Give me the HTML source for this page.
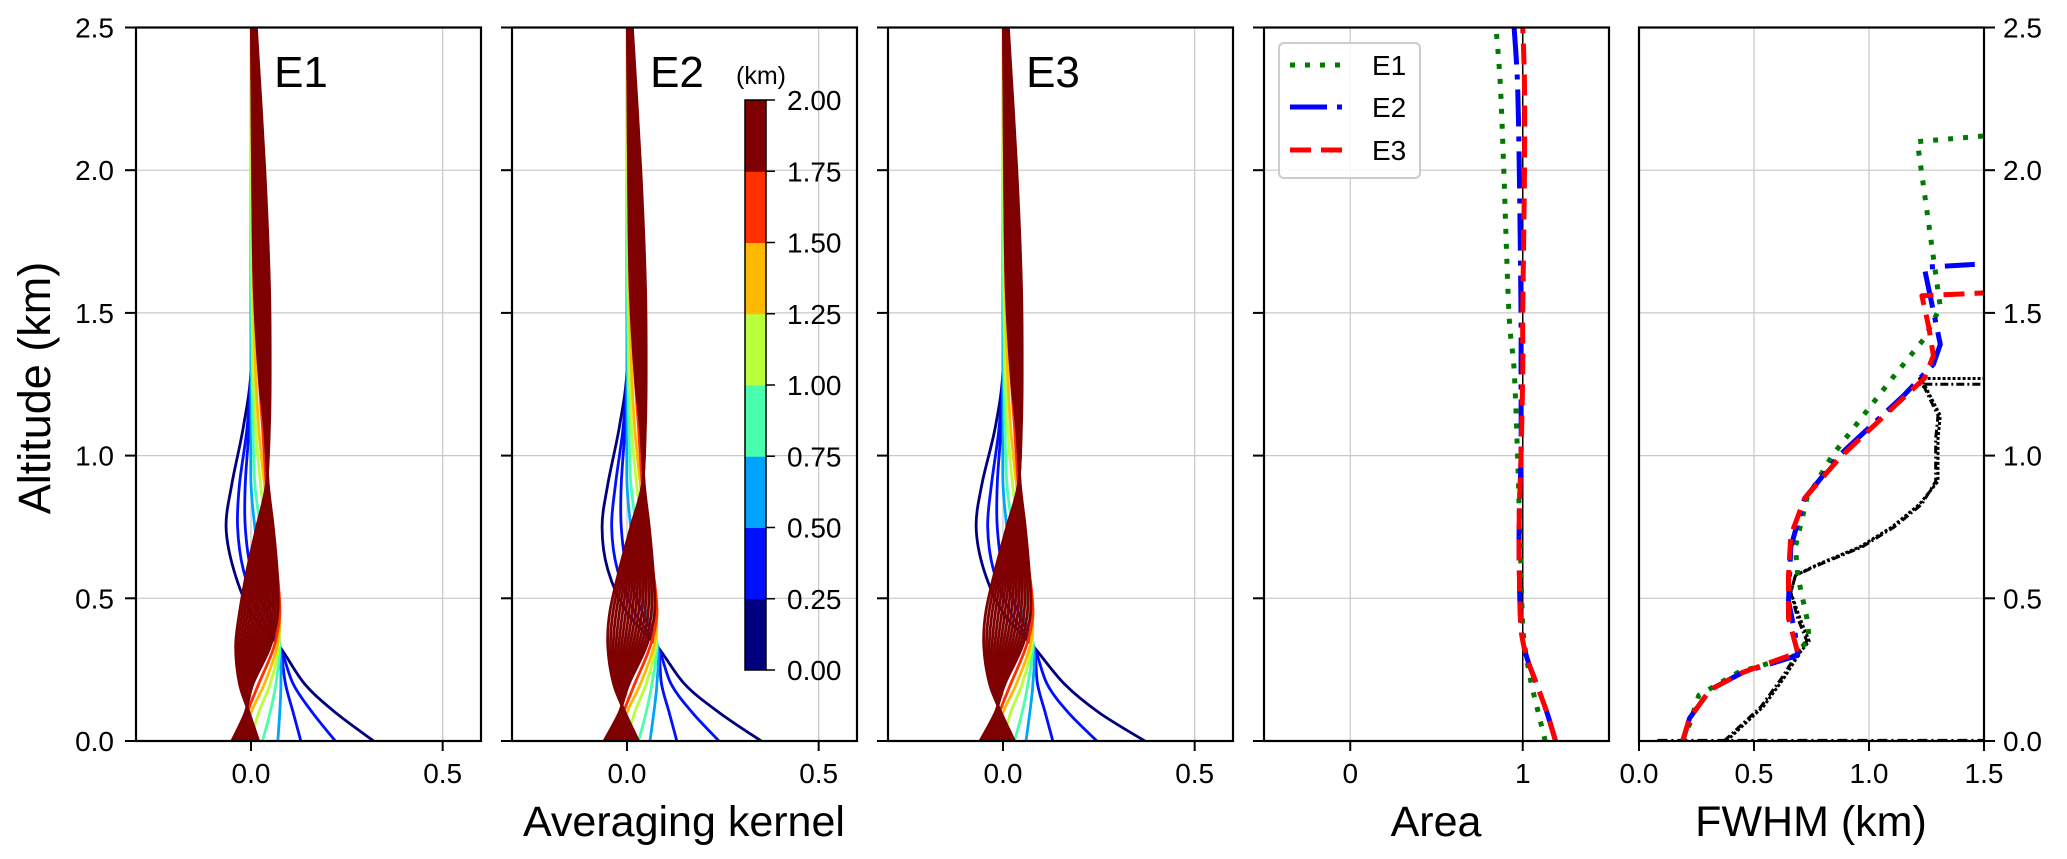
<!DOCTYPE html>
<html><head><meta charset="utf-8"><style>
html,body{margin:0;padding:0;background:#fff;}
svg{display:block;font-family:"Liberation Sans","DejaVu Sans",sans-serif;}
</style></head><body>
<svg id="fig" width="2067" height="859" viewBox="0 0 2067 859" xmlns="http://www.w3.org/2000/svg">
<g id="layer"></g>
</svg>
<script>
// ---------- data ----------
const altLevels = [0,0.1,0.2,0.33,0.45,0.6,0.75,0.9,1.1,1.3,1.6,2.0,2.5];
const keyZ0 = [0,0.3,0.45,0.6,0.85,1.1,1.35,1.6,1.8,2.5];
const kernelKeysE1 = [
 [0.32,0.22,0.14,0.075,0.0,-0.045,-0.065,-0.05,-0.02,0,0,0,0],
 [0.22,0.16,0.11,0.075,0.02,-0.02,-0.035,-0.03,-0.01,0,0,0,0],
 [0.13,0.11,0.09,0.075,0.04,0.0,-0.015,-0.015,-0.005,0,0,0,0],
 [0.07,0.075,0.078,0.075,0.05,0.025,0.01,0.0,0.0,0.0,0,0,0],
 [0.03,0.05,0.065,0.075,0.065,0.045,0.025,0.01,0.005,0.003,0.001,0,0],
 [0.0,0.02,0.05,0.072,0.072,0.06,0.04,0.025,0.012,0.006,0.003,0.001,0],
 [-0.02,0.0,0.035,0.068,0.075,0.065,0.05,0.035,0.02,0.012,0.006,0.003,0.001],
 [-0.035,-0.01,0.02,0.06,0.075,0.068,0.055,0.04,0.03,0.02,0.008,0.004,0.001],
 [-0.05,-0.015,0.005,0.05,0.07,0.068,0.058,0.045,0.035,0.02,0.008,0.004,0.001],
 [0.02,-0.005,-0.03,-0.04,-0.03,-0.01,0.015,0.04,0.048,0.05,0.048,0.036,0.014]
];
const kernelKeysE2 = [
 [0.35,0.24,0.15,0.08,0.0,-0.05,-0.065,-0.05,-0.02,0,0,0,0],
 [0.24,0.17,0.115,0.08,0.02,-0.025,-0.04,-0.03,-0.01,0,0,0,0],
 [0.13,0.11,0.09,0.08,0.04,0.0,-0.015,-0.015,-0.005,0,0,0,0],
 [0.06,0.07,0.078,0.08,0.05,0.025,0.01,0.0,0.0,0.0,0,0,0],
 [0.03,0.05,0.065,0.078,0.068,0.045,0.025,0.01,0.005,0.003,0.001,0,0],
 [0.0,0.02,0.05,0.075,0.075,0.06,0.04,0.025,0.012,0.006,0.003,0.001,0],
 [-0.02,0.0,0.035,0.07,0.078,0.065,0.05,0.035,0.02,0.012,0.006,0.003,0.001],
 [-0.04,-0.01,0.02,0.06,0.078,0.068,0.055,0.04,0.03,0.02,0.008,0.004,0.001],
 [-0.06,-0.02,0.005,0.05,0.072,0.068,0.058,0.045,0.035,0.02,0.008,0.004,0.001],
 [0.03,-0.005,-0.035,-0.05,-0.045,-0.02,0.01,0.04,0.048,0.05,0.048,0.036,0.014]
];
const kernelKeysE3 = [
 [0.37,0.25,0.16,0.08,0.0,-0.05,-0.07,-0.055,-0.02,0,0,0,0],
 [0.245,0.17,0.115,0.08,0.02,-0.025,-0.04,-0.03,-0.01,0,0,0,0],
 [0.13,0.11,0.09,0.08,0.04,0.0,-0.015,-0.015,-0.005,0,0,0,0],
 [0.06,0.07,0.078,0.08,0.05,0.025,0.01,0.0,0.0,0.0,0,0,0],
 [0.03,0.05,0.065,0.078,0.068,0.045,0.025,0.01,0.005,0.003,0.001,0,0],
 [0.0,0.02,0.05,0.075,0.075,0.06,0.04,0.025,0.012,0.006,0.003,0.001,0],
 [-0.02,0.0,0.035,0.07,0.078,0.065,0.05,0.035,0.02,0.012,0.006,0.003,0.001],
 [-0.04,-0.01,0.02,0.06,0.078,0.068,0.055,0.04,0.03,0.02,0.008,0.004,0.001],
 [-0.06,-0.02,0.005,0.05,0.072,0.068,0.058,0.045,0.035,0.02,0.008,0.004,0.001],
 [0.03,-0.005,-0.035,-0.05,-0.045,-0.02,0.01,0.04,0.048,0.05,0.048,0.036,0.014]
];
const curveZ0 = [0,0.3,0.45,0.6,0.85,1.1,1.35,1.6,1.8,1.85,1.9,1.95,2.0,2.05,2.1,2.15,2.2,2.25,2.3,2.35,2.4,2.45,2.5];
const cbarTicks = ["0.00","0.25","0.50","0.75","1.00","1.25","1.50","1.75","2.00"];
const jetBins = ["#00007f","#0010ff","#00a4ff","#49ffad","#b9ff3c","#ffb900","#ff3000","#7f0000"];

const areaAlt = [0,0.1,0.2,0.3,0.4,0.6,0.8,1.0,1.3,1.5,2.0,2.3,2.5];
const areaE1 = [1.13,1.09,1.05,1.02,1.0,0.99,0.98,0.97,0.95,0.92,0.89,0.87,0.845];
const areaE2 = [1.19,1.14,1.08,1.02,0.99,0.98,0.98,0.99,0.99,0.99,0.98,0.97,0.95];
const areaE3 = [1.19,1.14,1.08,1.02,0.99,0.98,0.98,0.99,1.0,1.0,1.01,1.01,1.0];

const fwhmE1x = [0.19,0.22,0.26,0.43,0.68,0.74,0.73,0.69,0.68,0.73,0.84,1.1,1.24,1.31,1.21,1.21,1.5];
const fwhmE1z = [0,0.06,0.16,0.24,0.30,0.36,0.43,0.58,0.68,0.85,1.0,1.27,1.41,1.52,2.1,2.1,2.12];
const fwhmE2x = [0.19,0.22,0.31,0.45,0.69,0.68,0.65,0.66,0.72,0.87,1.15,1.28,1.31,1.24,1.24,1.46];
const fwhmE2z = [0,0.08,0.18,0.24,0.30,0.37,0.49,0.68,0.85,1.0,1.21,1.32,1.39,1.66,1.66,1.67];
const fwhmE3x = [0.19,0.22,0.31,0.45,0.69,0.65,0.65,0.66,0.72,0.87,1.12,1.24,1.28,1.26,1.23,1.23,1.5];
const fwhmE3z = [0,0.08,0.18,0.24,0.31,0.43,0.58,0.72,0.85,0.99,1.18,1.27,1.35,1.45,1.56,1.56,1.57];
const fwhmMx = [0.38,0.54,0.63,0.70,0.74,0.70,0.66,0.68,0.78,0.96,1.10,1.22,1.30,1.30,1.31,1.24,1.22,1.5];
const fwhmMz = [0,0.12,0.22,0.31,0.35,0.43,0.52,0.58,0.62,0.68,0.75,0.83,0.91,1.06,1.14,1.25,1.27,1.27];
const fwhmM2x = [0.37,0.53,0.62,0.69,0.73,0.69,0.66,0.68,0.79,0.97,1.11,1.23,1.29,1.29,1.30,1.24,1.22,1.5];
const fwhmM2z = [0,0.12,0.22,0.31,0.35,0.43,0.52,0.58,0.62,0.68,0.75,0.83,0.91,1.06,1.14,1.24,1.25,1.25];

const yTicks = [0,0.5,1.0,1.5,2.0,2.5];
const yTickLabels = ["0.0","0.5","1.0","1.5","2.0","2.5"];

// ---------- layout ----------
const NS="http://www.w3.org/2000/svg";
const layer=document.getElementById('layer');
const TOP=27.5, BOT=741, W=345;
const ymin=0, ymax=2.5;
const TICKFS=28;
function Y(z){return BOT-(z-ymin)/(ymax-ymin)*(BOT-TOP);}
function mk(tag,attrs,parent){const e=document.createElementNS(NS,tag);for(const k in attrs)e.setAttribute(k,attrs[k]);(parent||layer).appendChild(e);return e;}
function txt(s,x,y,size,anchor,parent){const t=mk('text',{x:x,y:y,'font-size':size,'text-anchor':anchor||'middle',fill:'#000'},parent);t.textContent=s;return t;}
function smoothPath(pts){
  let d='M'+pts[0][0].toFixed(2)+','+pts[0][1].toFixed(2);
  for(let i=0;i<pts.length-1;i++){
    const p0=pts[Math.max(0,i-1)],p1=pts[i],p2=pts[i+1],p3=pts[Math.min(pts.length-1,i+2)];
    const c1=[p1[0]+(p2[0]-p0[0])/6,p1[1]+(p2[1]-p0[1])/6];
    const c2=[p2[0]-(p3[0]-p1[0])/6,p2[1]-(p3[1]-p1[1])/6];
    d+='C'+c1[0].toFixed(2)+','+c1[1].toFixed(2)+' '+c2[0].toFixed(2)+','+c2[1].toFixed(2)+' '+p2[0].toFixed(2)+','+p2[1].toFixed(2);
  }
  return d;
}
function polyPath(pts){return 'M'+pts.map(p=>p[0].toFixed(2)+','+p[1].toFixed(2)).join('L');}

function makePanel(idx,x0,xmin,xmax,xticks,xlabels,name){
  const g=mk('g',{});
  
  
  const X=v=>x0+(v-xmin)/(xmax-xmin)*W;
  yTicks.forEach(t=>{ if(t>ymin&&t<ymax){const l=mk('line',{x1:x0,x2:x0+W,y1:Y(t),y2:Y(t),stroke:'#c8c8c8','stroke-width':1.2},g);
    
    }});
  xticks.forEach(t=>{ if(X(t)>x0+1&&X(t)<x0+W-1){const l=mk('line',{x1:X(t),x2:X(t),y1:TOP,y2:BOT,stroke:'#c8c8c8','stroke-width':1.2},g);
    
    }});
  const clip=mk('clipPath',{id:'clip'+idx},g);
  mk('rect',{x:x0,y:TOP,width:W,height:BOT-TOP},clip);
  const plot=mk('g',{'clip-path':'url(#clip'+idx+')'},g);
  
  
  xticks.forEach((t,i)=>{
    const tk=mk('line',{x1:X(t),x2:X(t),y1:BOT,y2:BOT+10,stroke:'#000','stroke-width':2},g);
    
    
    const lb=txt(xlabels[i],X(t),783,TICKFS,'middle',g);
    
    
  });
  return {g,plot,X};
}
function frame(p,x0){
  const r=mk('rect',{x:x0,y:TOP,width:W,height:BOT-TOP,fill:'none',stroke:'#000','stroke-width':2.2},p.g);
  
  
}
function leftTicks(p,x0,labels){
  yTicks.forEach((t,i)=>{
    const tk=mk('line',{x1:x0-11,x2:x0,y1:Y(t),y2:Y(t),stroke:'#000','stroke-width':2},p.g);
    
    
    if(labels){const lb=txt(yTickLabels[i],114,Y(t)+10,TICKFS,'end',p.g);
      
      }
  });
}
function binColor(z){let b=Math.floor(z/0.25+1e-9);if(b<0)b=0;if(b>7)b=7;return jetBins[b];}
function drawKernels(p,keys){
  curveZ0.forEach(z0=>{
    let k=0;while(k<keyZ0.length-2&&z0>keyZ0[k+1])k++;
    const f=Math.min(1,Math.max(0,(z0-keyZ0[k])/(keyZ0[k+1]-keyZ0[k])));
    const pts=altLevels.map((a,j)=>[p.X(keys[k][j]*(1-f)+keys[k+1][j]*f),Y(a)]);
    const path=mk('path',{d:smoothPath(pts),fill:'none',stroke:binColor(z0),'stroke-width':2.8},p.plot);
    
    
  });
}

const px=[136,512,888,1264,1639];
const kernelSets=[kernelKeysE1,kernelKeysE2,kernelKeysE3];
const labelsE=["E1","E2","E3"];
for(let i=0;i<3;i++){
  const p=makePanel(i,px[i],-0.3,0.6,[0,0.5],["0.0","0.5"],'kernel-panel-'+labelsE[i].toLowerCase());
  drawKernels(p,kernelSets[i]);
  frame(p,px[i]);
  leftTicks(p,px[i],i===0);
  const t=txt(labelsE[i],px[i]+165,87,44,'middle',p.g);
  
  
}

// Area panel
(function(){
  const x0=px[3];
  const p=makePanel(3,x0,-0.5,1.5,[0,1],["0","1"],'area-panel');
  const vl=mk('line',{x1:p.X(1),x2:p.X(1),y1:TOP,y2:BOT,stroke:'#000','stroke-width':1.5},p.plot);
  
  
  const series=[[areaE1,'#007a00','5 10','area-e1'],[areaE2,'#0000ff','37 10 5 10','area-e2'],[areaE3,'#ff0000','21 10','area-e3']];
  series.forEach(s=>{
    const pts=areaAlt.map((a,j)=>[p.X(s[0][j]),Y(a)]);
    const path=mk('path',{d:smoothPath(pts),fill:'none',stroke:s[1],'stroke-width':5,'stroke-dasharray':s[2]},p.plot);
    
    
  });
  frame(p,x0);
  leftTicks(p,x0,false);
  const lg=mk('g',{},p.g);
  
  
  mk('rect',{x:1279,y:43,width:141,height:135,rx:5,fill:'#fff','fill-opacity':0.85,stroke:'#cccccc','stroke-width':2},lg);
  const items=[['E1','#007a00','5 10',65],['E2','#0000ff','37 10 5 10',107],['E3','#ff0000','21 10',150]];
  items.forEach(it=>{
    const e=mk('g',{},lg);
    
    
    mk('line',{x1:1290,x2:1343,y1:it[3],y2:it[3],stroke:it[1],'stroke-width':5,'stroke-dasharray':it[2]},e);
    txt(it[0],1372,it[3]+10,TICKFS,'start',e);
  });
})();

// FWHM panel
(function(){
  const x0=px[4];
  const p=makePanel(4,x0,0,1.5,[0,0.5,1.0,1.5],["0.0","0.5","1.0","1.5"],'fwhm-panel');
  const base=mk('line',{x1:p.X(0.08),x2:p.X(1.5),y1:Y(0)-1,y2:Y(0)-1,stroke:'#000','stroke-width':2.2,'stroke-dasharray':'10 4 2 4'},p.plot);
  
  
  const series=[
    [fwhmMx,fwhmMz,'#000','3 2',3,'fwhm-measured-dotted'],
    [fwhmM2x,fwhmM2z,'#000','8 3 2 3',3,'fwhm-measured-dashdot'],
    [fwhmE1x,fwhmE1z,'#007a00','5 10',5,'fwhm-e1'],
    [fwhmE2x,fwhmE2z,'#0000ff','37 10 5 10',5,'fwhm-e2'],
    [fwhmE3x,fwhmE3z,'#ff0000','21 10',5,'fwhm-e3']];
  series.forEach(s=>{
    const pts=s[0].map((v,j)=>[p.X(v),Y(s[1][j])]);
    const path=mk('path',{d:polyPath(pts),fill:'none',stroke:s[2],'stroke-width':s[4],'stroke-dasharray':s[3],'stroke-linejoin':'round'},p.plot);
    
    
  });
  frame(p,x0);
  yTicks.forEach((t,i)=>{
    const tk=mk('line',{x1:x0+W,x2:x0+W+11,y1:Y(t),y2:Y(t),stroke:'#000','stroke-width':2},p.g);
    
    
    const lb=txt(yTickLabels[i],2003,Y(t)+10,TICKFS,'start',p.g);
    
    
  });
})();

// colorbar
(function(){
  const g=mk('g',{});
  
  
  const cx=745,cw=21,ct=100,cb=670,n=jetBins.length;
  const h=(cb-ct)/n;
  jetBins.forEach((c,i)=>{
    const r=mk('rect',{x:cx,y:cb-(i+1)*h,width:cw,height:h+0.5,fill:c},g);
    
    
  });
  mk('rect',{x:cx,y:ct,width:cw,height:cb-ct,fill:'none',stroke:'#000','stroke-width':1.5},g);
  cbarTicks.forEach((s,i)=>{
    const yy=cb-i*(cb-ct)/(cbarTicks.length-1);
    mk('line',{x1:cx+cw,x2:cx+cw+9,y1:yy,y2:yy,stroke:'#000','stroke-width':1.5},g);
    const lb=txt(s,787,yy+10,TICKFS,'start',g);
    
    
  });
  const u=txt('(km)',761,84,25,'middle',g);
  
  
})();

// axis titles
const at1=txt('Altitude (km)',0,0,45,'middle');
at1.setAttribute('transform','translate(50,388) rotate(-90)');


const at2=txt('Averaging  kernel',684,836,43,'middle');


const at3=txt('Area',1436,836,43,'middle');


const at4=txt('FWHM (km)',1811,836,43,'middle');


</script>
</body></html>
